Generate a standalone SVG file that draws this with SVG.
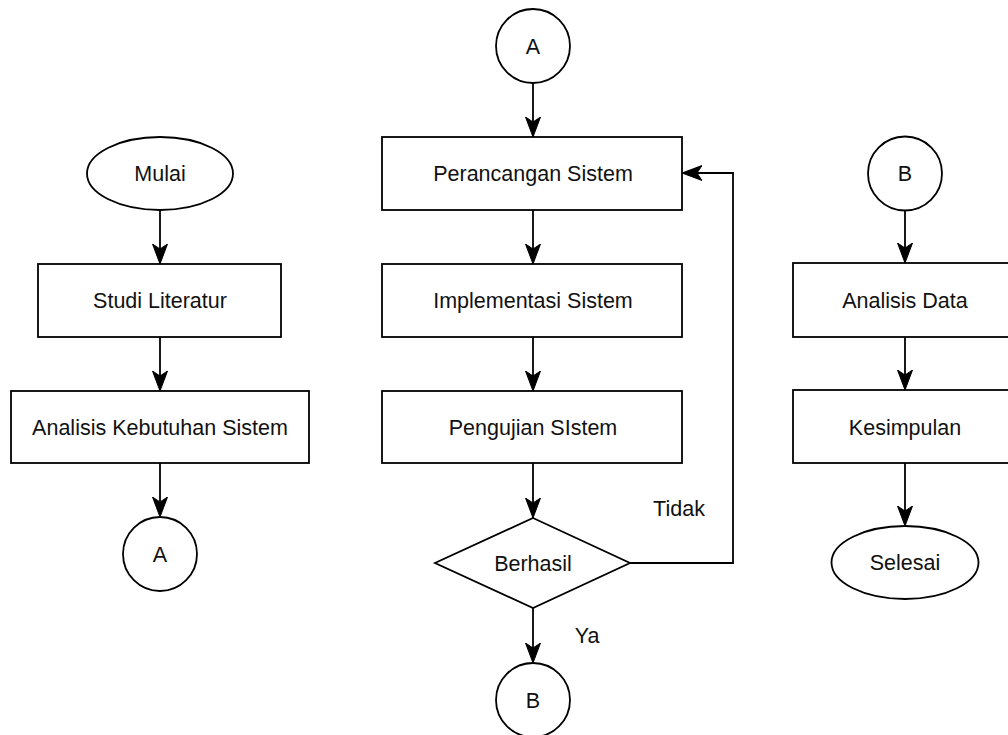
<svg xmlns="http://www.w3.org/2000/svg" width="1008" height="735" viewBox="0 0 1008 735">
<style>
.s{fill:#fff;stroke:#000;stroke-width:1.8}
.t{font-family:"Liberation Sans",Arial,sans-serif;font-size:21.5px;fill:#111;text-anchor:middle}
.c{fill:none;stroke:#000;stroke-width:1.8}
</style>
<defs>
<marker id="ah" markerUnits="userSpaceOnUse" markerWidth="21" markerHeight="16" refX="20" refY="8" orient="auto">
<path d="M0,0.5 L20,8 L0,15.5 L5,8 z" fill="#000" stroke="#000" stroke-width="1"/>
</marker>
</defs>
<rect width="1008" height="735" fill="#fff"/>
<g id="connectors">
<path class="c" d="M160,210 V264" marker-end="url(#ah)"/>
<path class="c" d="M160,337 V391" marker-end="url(#ah)"/>
<path class="c" d="M160,463 V517" marker-end="url(#ah)"/>
<path class="c" d="M533,83 V137" marker-end="url(#ah)"/>
<path class="c" d="M533,210 V264" marker-end="url(#ah)"/>
<path class="c" d="M533,337 V391" marker-end="url(#ah)"/>
<path class="c" d="M533,463 V518" marker-end="url(#ah)"/>
<path class="c" d="M533,608 V663" marker-end="url(#ah)"/>
<path class="c" d="M630,563 H733 V173 H682" marker-end="url(#ah)"/>
<path class="c" d="M905,210 V263" marker-end="url(#ah)"/>
<path class="c" d="M905,337 V390" marker-end="url(#ah)"/>
<path class="c" d="M905,463 V526" marker-end="url(#ah)"/>
<text class="t" x="679" y="516">Tidak</text>
<text class="t" x="587" y="643">Ya</text>
</g>
<g id="mulai"><ellipse class="s" cx="160" cy="173.5" rx="73" ry="36.5"/><text class="t" x="160" y="181">Mulai</text></g>
<g id="studi"><rect class="s" x="38" y="264" width="243" height="73"/><text class="t" x="160" y="308">Studi Literatur</text></g>
<g id="analisis-kebutuhan"><rect class="s" x="11" y="391" width="298" height="72"/><text class="t" x="160" y="435">Analisis Kebutuhan Sistem</text></g>
<g id="a-out"><circle class="s" cx="160" cy="554" r="37"/><text class="t" x="160" y="562">A</text></g>
<g id="a-in"><circle class="s" cx="533" cy="46" r="37"/><text class="t" x="533" y="54">A</text></g>
<g id="perancangan"><rect class="s" x="382" y="137" width="300" height="73"/><text class="t" x="533" y="181">Perancangan Sistem</text></g>
<g id="implementasi"><rect class="s" x="382" y="264" width="300" height="73"/><text class="t" x="533" y="308">Implementasi Sistem</text></g>
<g id="pengujian"><rect class="s" x="382" y="391" width="300" height="72"/><text class="t" x="533" y="435">Pengujian SIstem</text></g>
<g id="berhasil"><path class="s" d="M533,518 L630,563 L533,608 L435,563 Z"/><text class="t" x="533" y="571">Berhasil</text></g>
<g id="b-out"><circle class="s" cx="533" cy="700" r="37"/><text class="t" x="533" y="708">B</text></g>
<g id="b-in"><circle class="s" cx="905" cy="173.5" r="37"/><text class="t" x="905" y="181">B</text></g>
<g id="analisis-data"><rect class="s" x="793" y="263" width="240" height="74"/><text class="t" x="905" y="308">Analisis Data</text></g>
<g id="kesimpulan"><rect class="s" x="793" y="390" width="240" height="73"/><text class="t" x="905" y="435">Kesimpulan</text></g>
<g id="selesai"><ellipse class="s" cx="905" cy="562.5" rx="73.5" ry="36.5"/><text class="t" x="905" y="570">Selesai</text></g>
</svg>
